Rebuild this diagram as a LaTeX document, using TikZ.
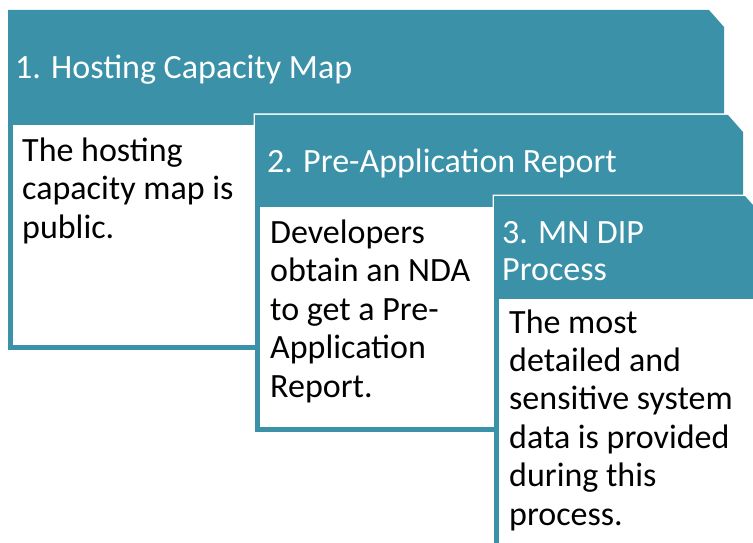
\documentclass[tikz,border=0pt]{standalone}
\usepackage{fontspec}
\setmainfont{Carlito}
\usepackage{xcolor}
\usepackage{tikz}
\definecolor{dipteal}{RGB}{58,145,168}

\begin{document}
\begin{tikzpicture}[
  x=1pt, y=-1pt,
  hdr/.style={fill=dipteal, draw=none},
  bodybox/.style={fill=white, draw=dipteal, line width=5pt},
  gap/.style={fill=white, draw=white, line width=3pt},
  % multi-line nodes sit on the baseline of their last line
  hdrtext/.style={anchor=base west, inner sep=0pt, align=left, text=white,
                  font=\fontsize{34}{37}\selectfont},
  bodytext/.style={anchor=base west, inner sep=0pt, align=left, text=black,
                   font=\fontsize{34}{38.4}\selectfont}
]
\useasboundingbox[fill=white] (0,0) rectangle (753,543);
\clip (0,0) rectangle (753,543);

% Panel 1
\fill[hdr] (8,10) -- (709,10) -- (724,27) -- (724,125) -- (8,125) -- cycle;
\draw[bodybox] (10.5,122.5) rectangle (400,347.5);
\node[hdrtext]  (hdr_map)  at (15,78)  {1. Hosting Capacity Map};
\node[bodytext] (body_map) at (22,238) {The hosting\\capacity map is\\public.};

% Panel 2
\draw[gap] (255,115) -- (728,115) -- (743,132) -- (743,207) -- (255,207) -- cycle;
\draw[gap] (257.5,204.5) rectangle (600,429.5);
\fill[hdr] (255,115) -- (728,115) -- (743,132) -- (743,207) -- (255,207) -- cycle;
\draw[bodybox] (257.5,204.5) rectangle (600,429.5);
\node[hdrtext]  (hdr_pre)  at (267,172) {2. Pre-Application Report};
\node[bodytext] (body_pre) at (270,397) {Developers\\obtain an NDA\\to get a Pre-\\Application\\Report.};

% Panel 3
\draw[gap] (494,196) -- (745,196) -- (760,213) -- (760,298) -- (494,298) -- cycle;
\draw[gap] (496.5,296.5) rectangle (770,560);
\fill[hdr] (494,196) -- (745,196) -- (760,213) -- (760,298) -- (494,298) -- cycle;
\draw[bodybox] (496.5,296.5) rectangle (770,560);
\node[hdrtext]  (hdr_dip)  at (502,280) {3. MN DIP\\Process};
\node[bodytext] (body_dip) at (509,525) {The most\\detailed and\\sensitive system\\data is provided\\during this\\process.};

\end{tikzpicture}
\end{document}
